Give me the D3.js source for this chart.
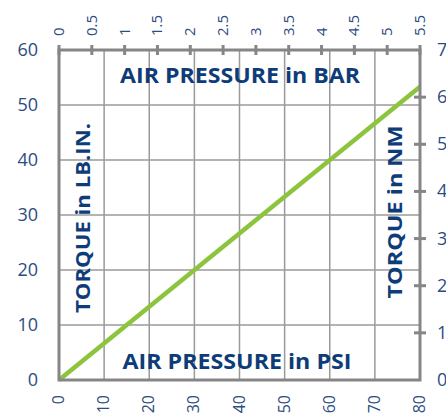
<!DOCTYPE html>
<html>
<head>
<meta charset="utf-8">
<script src="https://cdn.jsdelivr.net/npm/d3@7"></script>
<style>
body{margin:0;background:#fff;overflow:hidden;}
svg{display:block;}
</style>
</head>
<body>
<div class="graph"></div>
<script>
// data
var psiTicks = [0,10,20,30,40,50,60,70,80];
var barTicks = [0,0.5,1,1.5,2,2.5,3,3.5,4,4.5,5,5.5];
var lbinTicks = [0,10,20,30,40,50,60];
var nmTicks = [0,1,2,3,4,5,6,7];
var torquePsi = [0,80];
var torqueLbin = [0,53.3];

var width=446, height=417;
var margin={top:50,right:26,bottom:37,left:59};
var labelColor="#2d4c82", titleColor="#0e3c78", frameColor="#868686", gridColor="#9a9a9a";

var x = d3.scaleLinear().domain([0,80]).range([margin.left, width-margin.right]);
var xBar = d3.scaleLinear().domain([0,5.5]).range([margin.left, width-margin.right]);
var y = d3.scaleLinear().domain([0,60]).range([height-margin.bottom, margin.top]);
var yNm = d3.scaleLinear().domain([0,7]).range([height-margin.bottom, margin.top]);

var svg = d3.select(".graph").append("svg").attr("width",width).attr("height",height);

//grid
svg.append("g").selectAll("line").data(psiTicks.slice(1,-1)).enter().append("line")
 .attr("x1",function(d){return x(d);}).attr("x2",function(d){return x(d);})
 .attr("y1",y(0)).attr("y2",y(60)).attr("stroke",gridColor).attr("stroke-width",1.5);
svg.append("g").selectAll("line").data(lbinTicks.slice(1,-1)).enter().append("line")
 .attr("x1",x(0)).attr("x2",x(80))
 .attr("y1",function(d){return y(d);}).attr("y2",function(d){return y(d);})
 .attr("stroke",gridColor).attr("stroke-width",1.5);

// torque line
var pts = torquePsi.map(function(p,i){return [p,torqueLbin[i]];});
svg.append("path").datum(pts)
 .attr("d", d3.line().x(function(d){return x(d[0]);}).y(function(d){return y(d[1]);}))
 .attr("stroke","#8cc43e").attr("stroke-width",4.5).attr("fill","none");

// titles
svg.append("text").attr("x",240).attr("y",83).attr("text-anchor","middle")
 .style("font-family","Open Sans").style("font-weight","bold").style("font-size","21px")
 .attr("fill",titleColor).attr("textLength",240).attr("lengthAdjust","spacingAndGlyphs")
 .text("AIR PRESSURE  in BAR");
svg.append("text").attr("x",237).attr("y",369).attr("text-anchor","middle")
 .style("font-family","Open Sans").style("font-weight","bold").style("font-size","21px")
 .attr("fill",titleColor).attr("textLength",229).attr("lengthAdjust","spacingAndGlyphs")
 .text("AIR PRESSURE  in PSI");
svg.append("text").attr("transform","translate(90,218) rotate(-90)").attr("text-anchor","middle")
 .style("font-family","Open Sans").style("font-weight","bold").style("font-size","20px")
 .attr("fill",titleColor).attr("textLength",190).attr("lengthAdjust","spacingAndGlyphs")
 .text("TORQUE in LB.IN.");
svg.append("text").attr("transform","translate(402,212) rotate(-90)").attr("text-anchor","middle")
 .style("font-family","Open Sans").style("font-weight","bold").style("font-size","20px")
 .attr("fill",titleColor).attr("textLength",173).attr("lengthAdjust","spacingAndGlyphs")
 .text("TORQUE in NM");

// frame
svg.append("rect").attr("x",x(0)).attr("y",y(60)).attr("width",x(80)-x(0)).attr("height",y(0)-y(60))
 .attr("fill","none").attr("stroke",frameColor).attr("stroke-width",3);

// top ticks (bar)
svg.append("g").selectAll("line").data(barTicks).enter().append("line")
 .attr("x1",function(d){return xBar(d);}).attr("x2",function(d){return xBar(d);})
 .attr("y1",y(60)-5).attr("y2",y(60)+5).attr("stroke",frameColor).attr("stroke-width",3);
svg.append("g").selectAll("text").data(barTicks).enter().append("text")
 .attr("transform",function(d){return "translate("+(xBar(d)+5)+",36) rotate(-90)";})
 .style("font-family","Open Sans").style("font-size","15px").attr("fill",labelColor)
 .text(function(d){return d;});

// right ticks (nm)
svg.append("g").selectAll("line").data(nmTicks.slice(1,-1)).enter().append("line")
 .attr("x1",x(80)-6).attr("x2",x(80)+6)
 .attr("y1",function(d){return yNm(d);}).attr("y2",function(d){return yNm(d);})
 .attr("stroke",frameColor).attr("stroke-width",3);
svg.append("g").selectAll("text").data(nmTicks).enter().append("text")
 .attr("x",437).attr("y",function(d){return yNm(d)+6;})
 .style("font-family","Open Sans").style("font-size","18px").attr("fill",labelColor)
 .text(function(d){return d;});

// left labels (lb.in.)
svg.append("g").selectAll("text").data(lbinTicks).enter().append("text")
 .attr("x",38).attr("y",function(d){return y(d)+6;}).attr("text-anchor","end")
 .style("font-family","Open Sans").style("font-size","18px").attr("fill",labelColor)
 .text(function(d){return d;});

// bottom labels (psi)
svg.append("g").selectAll("text").data(psiTicks).enter().append("text")
 .attr("transform",function(d){return "translate("+(x(d)+5)+",395) rotate(-90)";})
 .attr("text-anchor","end")
 .style("font-family","Open Sans").style("font-size","16px").attr("fill",labelColor)
 .text(function(d){return d;});
</script>
</body>
</html>
